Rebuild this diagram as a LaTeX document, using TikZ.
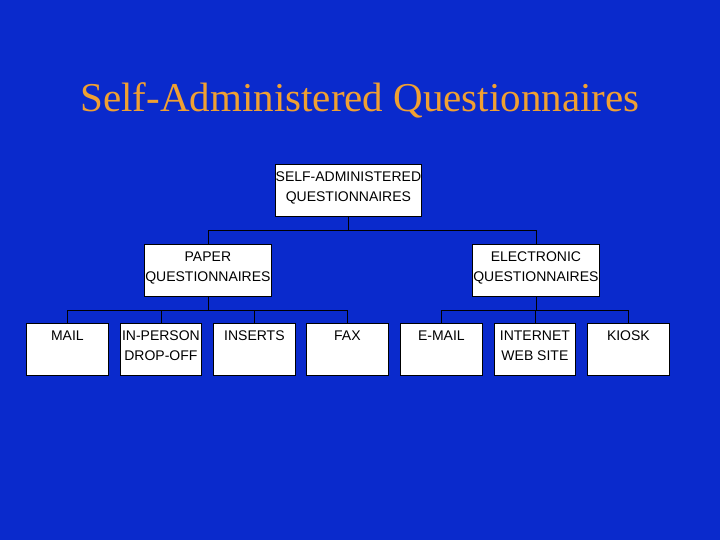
\documentclass[tikz,border=0pt]{standalone}
\usepackage{fontspec}
\usetikzlibrary{calc}
\setmainfont{Liberation Serif}
\newfontfamily\arialf{Liberation Sans}
\definecolor{bg}{RGB}{10,42,204}
\definecolor{ttl}{RGB}{240,160,50}
\begin{document}
\begin{tikzpicture}[x=1pt,y=-1pt,
  box/.style={draw=black,fill=white,line width=0.8pt,anchor=north west,inner sep=0pt},
  lbl/.style={font=\arialf\fontsize{14}{20}\selectfont,align=center,anchor=north},
  ln/.style={line width=0.8pt,black}]
\fill[bg] (0,0) rectangle (720,540);
\useasboundingbox (0,0) rectangle (720,540);
\node[font=\fontsize{41}{48}\selectfont,text=ttl,anchor=base] (title) at (360,112) {Self-Administered Questionnaires};
\foreach \n/\a/\b/\c/\d/\t in {
 top/275/164/421/216/{SELF-ADMINISTERED\\QUESTIONNAIRES},
 paper/144/244/271/296/{PAPER\\QUESTIONNAIRES},
 elec/472/244/599/296/{ELECTRONIC\\QUESTIONNAIRES},
 mail/26/323/108/375/{MAIL},
 inp/120/323/201/375/{IN-PERSON\\DROP-OFF},
 ins/213/323/295/375/{INSERTS},
 fax/306/323/388/375/{FAX},
 email/400/323/482/375/{E-MAIL},
 inet/494/323/575/375/{INTERNET\\WEB SITE},
 kiosk/587/323/669/375/{KIOSK}}{
 \node[box,minimum width=\c-\a,minimum height=\d-\b] (\n) at (\a,\b) {};
 \node[lbl] (\n-t) at ($(\n.north)+(0,4)$) {\t};
}
\draw[ln] (top.south) -- ++(0,14) coordinate (j1);
\draw[ln] (paper.north) |- (j1) -| (elec.north);
\draw[ln] (paper.south) -- ++(0,14) coordinate (j2);
\draw[ln] (mail.north) |- (j2) -| (fax.north);
\draw[ln] (inp.north) -- (inp.north |- j2);
\draw[ln] (ins.north) -- (ins.north |- j2);
\draw[ln] (elec.south) -- ++(0,14) coordinate (j3);
\draw[ln] (email.north) |- (j3) -| (kiosk.north);
\draw[ln] (inet.north) -- (inet.north |- j3);
\end{tikzpicture}
\end{document}
